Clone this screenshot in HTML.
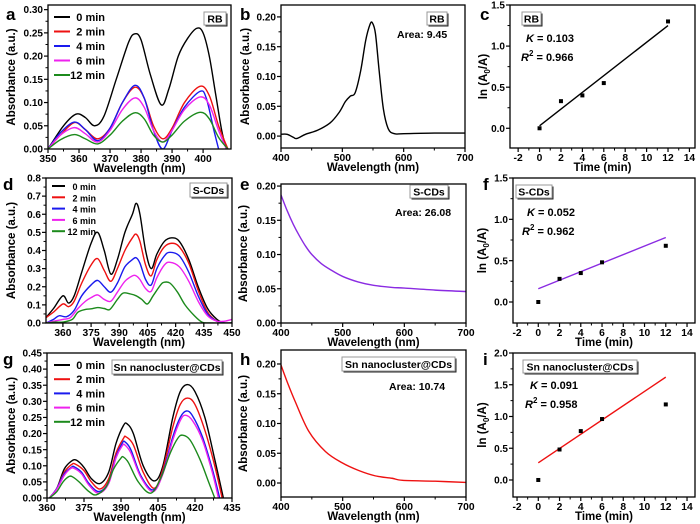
<!DOCTYPE html>
<html><head><meta charset="utf-8">
<style>
html,body{margin:0;padding:0;background:#fff;}
svg{display:block;font-family:"Liberation Sans",Arial,sans-serif;font-weight:bold;}
</style></head>
<body>
<svg id="fig" width="700" height="524" viewBox="0 0 700 524" xmlns="http://www.w3.org/2000/svg"></svg>
<script>
// ---------- data ----------
const timeLabels = ["0 min","2 min","4 min","6 min","12 min"];
const seriesColors = ["#000000","#ee1111","#1a1aee","#ee22ee","#1c8a1c"];

const rbSpec0 = [[350,0],[355,0.05],[359,0.075],[362,0.068],[365,0.05],[368,0.07],[372,0.15],[376,0.23],[378,0.248],[380,0.235],[383,0.16],[386.5,0.095],[389,0.13],[392,0.2],[395,0.238],[398,0.26],[400,0.25],[402,0.2],[404,0.12],[406,0.04],[407.5,0]];
const rbSpec2 = [[350,0],[354,0.03],[358.5,0.057],[362,0.042],[366,0.022],[370,0.045],[374,0.1],[378,0.133],[381,0.11],[384,0.05],[387,0.022],[390,0.045],[394,0.1],[399,0.135],[402,0.115],[405,0.05],[408,0]];
const rbSpec4 = [[350,0],[354,0.035],[358.5,0.058],[362,0.042],[366,0.018],[370,0.045],[374,0.1],[378,0.137],[381,0.11],[384,0.04],[387,0],[390,0.04],[394,0.09],[399,0.124],[401,0.11],[403.5,0.04],[405,0]];
const rbSpec6 = [[350,0],[354,0.03],[358.5,0.046],[362,0.033],[366,0.015],[370,0.04],[374,0.085],[378,0.11],[381,0.09],[384,0.04],[387,0.015],[390,0.04],[394,0.085],[399,0.112],[402,0.095],[405,0.04],[407.5,0]];
const rbSpec12 = [[350,0],[354,0.02],[358.5,0.031],[362,0.022],[366,0.011],[370,0.03],[374,0.06],[378,0.078],[381,0.065],[384,0.03],[387,0.015],[390,0.03],[394,0.06],[399,0.079],[402,0.065],[405,0.025],[408,0]];

const rbFull = [[400,0.003],[410,0.003],[420,-0.002],[426,-0.004],[440,0.003],[460,0.01],[480,0.022],[495,0.04],[505,0.058],[513,0.067],[521,0.073],[530,0.11],[538,0.16],[545,0.187],[549,0.19],[554,0.172],[560,0.11],[567,0.045],[575,0.012],[585,0.004],[600,0.004],[650,0.005],[700,0.005]];

const kinTime = [0,2,4,6,12];
const rbLn = [0,0.33,0.40,0.55,1.30];
const rbFit = [0.03,1.25];
const cdLn = [0,0.28,0.35,0.48,0.68];
const cdFit = [0.16,0.78];
const snLn = [0,0.48,0.77,0.96,1.19];
const snFit = [0.27,1.62];

const cdSpec0 = [[351,0.03],[355,0.08],[360,0.15],[363,0.11],[366,0.15],[370,0.28],[375,0.44],[378.5,0.5],[382,0.4],[385.5,0.27],[389,0.35],[393,0.5],[397,0.6],[399,0.66],[401,0.6],[404,0.4],[407,0.3],[410,0.38],[414,0.45],[418,0.47],[422,0.45],[427,0.35],[432,0.2],[437,0.08],[442,0.02],[446,0.0],[450,0.0]];
const cdSpec2 = [[351,0.03],[355,0.06],[360,0.105],[363,0.09],[366,0.12],[370,0.22],[375,0.32],[378.5,0.355],[382,0.29],[385.5,0.23],[389,0.3],[393,0.4],[397,0.47],[399,0.49],[401,0.45],[404,0.32],[407,0.26],[410,0.35],[414,0.42],[418,0.44],[422,0.42],[427,0.33],[432,0.18],[437,0.06],[442,0.01],[446,0.0],[450,0.0]];
const cdSpec4 = [[351,0.0],[355,0.02],[358,0.04],[362,0.035],[366,0.07],[370,0.15],[375,0.21],[378.5,0.235],[382,0.2],[385.5,0.17],[389,0.22],[393,0.31],[397,0.35],[399,0.36],[401,0.33],[404,0.24],[407,0.21],[410,0.3],[414,0.37],[417,0.39],[422,0.37],[427,0.28],[432,0.15],[437,0.05],[442,0.01],[446,0.0],[450,0.0]];
const cdSpec6 = [[351,0.0],[355,0.01],[360,0.02],[364,0.03],[368,0.08],[372,0.12],[375,0.14],[378.5,0.155],[382,0.13],[385.5,0.12],[389,0.17],[393,0.23],[397,0.26],[399,0.26],[401,0.24],[404,0.19],[407,0.175],[410,0.25],[414,0.32],[417,0.335],[422,0.31],[427,0.23],[432,0.12],[437,0.04],[442,0.01],[446,0.01],[450,0.02]];
const cdSpec12 = [[351,0.0],[356,0.005],[360,0.005],[365,0.02],[368,0.06],[372,0.075],[375,0.078],[378.5,0.085],[382,0.08],[385,0.075],[389,0.13],[392,0.165],[396,0.16],[399,0.15],[402,0.13],[405,0.105],[408,0.15],[412,0.21],[414,0.225],[417,0.22],[421,0.17],[425,0.1],[430,0.04],[434,0.005],[438,0],[450,0]];

const cdFull = [[400,0.187],[410,0.164],[420,0.144],[430,0.127],[440,0.112],[450,0.1],[465,0.087],[480,0.078],[500,0.068],[525,0.06],[550,0.055],[580,0.052],[600,0.051],[650,0.048],[700,0.046]];

const snSpec0 = [[361,0],[364,0.03],[367,0.09],[370,0.115],[372,0.117],[375,0.095],[378,0.06],[381.5,0.045],[385,0.08],[388,0.17],[391,0.225],[392.5,0.23],[395,0.2],[399,0.1],[403.5,0.053],[407,0.1],[411,0.25],[414,0.33],[417,0.352],[420,0.33],[424,0.25],[428,0.12],[431.5,0]];
const snSpec2 = [[361,0],[364,0.03],[367,0.08],[370,0.104],[371.5,0.105],[375,0.085],[378,0.05],[381.5,0.028],[385,0.06],[388,0.14],[391,0.185],[392,0.19],[395,0.165],[399,0.08],[403.5,0.03],[407,0.09],[411,0.22],[414,0.29],[417,0.31],[420,0.29],[424,0.21],[428,0.1],[431,0]];
const snSpec4 = [[361,0],[364,0.03],[367,0.075],[370,0.096],[371,0.097],[374,0.08],[377,0.045],[381,0.02],[385,0.05],[388,0.13],[390.5,0.17],[391.5,0.175],[394,0.15],[398,0.07],[403,0.025],[407,0.08],[411,0.19],[414,0.25],[416.5,0.27],[419,0.255],[423,0.19],[427,0.09],[430,0]];
const snSpec6 = [[361,0],[364,0.028],[367,0.07],[369.5,0.091],[371,0.092],[374,0.075],[377,0.04],[381,0.015],[385,0.045],[388,0.125],[390.5,0.162],[391.5,0.165],[394,0.14],[398,0.065],[403,0.02],[407,0.075],[411,0.18],[414,0.24],[416,0.257],[419,0.24],[423,0.18],[427,0.08],[429.5,0]];
const snSpec12 = [[361,0],[364,0.02],[366.5,0.05],[369,0.067],[370.5,0.065],[373,0.05],[377,0.02],[380,0.01],[384,0.035],[387,0.09],[390,0.124],[391,0.127],[393,0.11],[397,0.05],[402,0.015],[406,0.06],[410,0.14],[413,0.185],[415,0.195],[418,0.18],[422,0.12],[425.5,0.05],[428,0]];

const snFull = [[400,0.198],[410,0.17],[423,0.137],[445,0.087],[472,0.053],[499,0.034],[526,0.021],[553,0.012],[580,0.008],[597,0.0045],[650,0.003],[700,0.001]];

const rbTicksX = [350,360,370,380,390,400];
const rbTicksY = [0,0.05,0.10,0.15,0.20,0.25,0.30];
const visTicksX = [400,500,600,700];
const visTicksY = [0,0.05,0.10,0.15,0.20];
const kinTicksX = [-2,0,2,4,6,8,10,12,14];
const kinTicksY = [0,0.5,1.0,1.5];
const kinTicksYi = [0,0.5,1.0,1.5,2.0];
const cdTicksX = [360,375,390,405,420,435,450];
const cdTicksY = [0,0.1,0.2,0.3,0.4,0.5,0.6,0.7,0.8];
const snTicksX = [360,375,390,405,420,435];
const snTicksY = [0,0.05,0.10,0.15,0.20,0.25,0.30,0.35,0.40,0.45];

// ---------- drawing ----------
const NS = "http://www.w3.org/2000/svg";
const fig = document.getElementById("fig");
function el(tag, attrs, parent, txt){
  const e = document.createElementNS(NS, tag);
  for (const k in attrs) e.setAttribute(k, attrs[k]);
  if (txt !== undefined) e.textContent = txt;
  (parent||fig).appendChild(e);
  return e;
}
function smoothPath(pts){
  let d = "M"+pts[0][0].toFixed(2)+","+pts[0][1].toFixed(2);
  for (let i=0;i<pts.length-1;i++){
    const p0=pts[Math.max(0,i-1)], p1=pts[i], p2=pts[i+1], p3=pts[Math.min(pts.length-1,i+2)];
    const c1x=p1[0]+(p2[0]-p0[0])/6, c1y=p1[1]+(p2[1]-p0[1])/6;
    const c2x=p2[0]-(p3[0]-p1[0])/6, c2y=p2[1]-(p3[1]-p1[1])/6;
    d+=" C"+c1x.toFixed(2)+","+c1y.toFixed(2)+" "+c2x.toFixed(2)+","+c2y.toFixed(2)+" "+p2[0].toFixed(2)+","+p2[1].toFixed(2);
  }
  return d;
}
function panel(id, cfg){
  const g = el("g", {}, fig);
  
  
  const sx = v => cfg.L + (v - cfg.x0) / (cfg.x1 - cfg.x0) * (cfg.R - cfg.L);
  const sy = v => cfg.B - (v - cfg.y0) / (cfg.y1 - cfg.y0) * (cfg.B - cfg.T);
  const clipId = "clip-"+id;
  const defs = el("defs", {}, g);
  const cp = el("clipPath", {id: clipId}, defs);
  el("rect", {x:cfg.L, y:cfg.T, width:cfg.R-cfg.L, height:cfg.B-cfg.T}, cp);
  const tickG = el("g", {}, g);
  
  
  const xs = cfg.xt;
  for (let i=0;i<xs.length;i++){
    const x = sx(xs[i]);
    el("line", {x1:x, x2:x, y1:cfg.B, y2:cfg.B+4, stroke:"#000", "stroke-width":1.2}, tickG);
    const t = el("text", {x:x, y:cfg.B+13, "text-anchor":"middle", "font-size":"10.3"}, tickG, String(xs[i]));
    
    
    if (i<xs.length-1){
      const xm = sx((xs[i]+xs[i+1])/2);
      el("line", {x1:xm, x2:xm, y1:cfg.B, y2:cfg.B+2.5, stroke:"#000", "stroke-width":1}, tickG);
    }
  }
  const yG = el("g", {}, g);
  
  
  const ys = cfg.yt;
  for (let i=0;i<ys.length;i++){
    const y = sy(ys[i]);
    el("line", {x1:cfg.L-4, x2:cfg.L, y1:y, y2:y, stroke:"#000", "stroke-width":1.2}, yG);
    const t = el("text", {x:cfg.L-5, y:y+3.6, "text-anchor":"end", "font-size":"10"}, yG, ys[i].toFixed(cfg.yd));
    
    
    if (i<ys.length-1){
      const ym = sy((ys[i]+ys[i+1])/2);
      el("line", {x1:cfg.L-2.5, x2:cfg.L, y1:ym, y2:ym, stroke:"#000", "stroke-width":1}, yG);
    }
  }
  const xt = el("text", {x:(cfg.L+cfg.R)/2, y:cfg.B+23, "text-anchor":"middle", "font-size":"11.5"}, g, cfg.xTitle);
  
  
  const ytx = cfg.ytx, yty = (cfg.T+cfg.B)/2;
  const yt = el("text", {x:ytx, y:yty, "text-anchor":"middle", "font-size":"11.5", transform:"rotate(-90 "+ytx+" "+yty+")"}, g);
  
  
  if (cfg.yTitle === "ln"){
    el("tspan", {}, yt, "ln (A");
    el("tspan", {"font-size":"8", dy:"3"}, yt, "0");
    el("tspan", {dy:"-3"}, yt, "/A)");
  } else yt.textContent = cfg.yTitle;
  const plot = el("g", {"clip-path":"url(#"+clipId+")"}, g);
  (cfg.lines||[]).forEach((ln, k) => {
    const p = el("path", {d: smoothPath(ln.data.map(q=>[sx(q[0]), sy(q[1])])), fill:"none", stroke:ln.color, "stroke-width":1.4}, plot);
    
    
  });
  if (cfg.kin){
    const f = cfg.kin;
    const fl = el("line", {x1:sx(0), y1:sy(f.fit[0]), x2:sx(12), y2:sy(f.fit[1]), stroke:f.color, "stroke-width":1.4}, plot);
    
    
    for (let i=0;i<kinTime.length;i++){
      const pt = el("rect", {x:sx(kinTime[i])-2, y:sy(f.vals[i])-2, width:4, height:4, fill:"#000"}, plot);
      
      
    }
  }
  const fr = el("rect", {x:cfg.L, y:cfg.T, width:cfg.R-cfg.L, height:cfg.B-cfg.T, fill:"none", stroke:"#000", "stroke-width":1.3}, g);
  
  
  const pl = el("text", {x:cfg.lx, y:cfg.ly, "font-size":"17"}, g, id);
  
  
  if (cfg.box){
    const b = cfg.box;
    const bg = el("g", {}, g);
    
    
    el("rect", {x:b.x+1.5, y:b.y+1.5, width:b.w, height:b.h, fill:"#222"}, bg);
    el("rect", {x:b.x, y:b.y, width:b.w, height:b.h, fill:"#fff", stroke:"#999", "stroke-width":1}, bg);
    el("text", {x:b.x+b.w/2, y:b.y+b.h/2+3.8, "text-anchor":"middle", "font-size":"10.5"}, bg, b.t);
  }
  if (cfg.area){
    const a = el("text", {x:cfg.area.x, y:cfg.area.y, "font-size":"10.5"}, g, cfg.area.t);
    
    
  }
  if (cfg.kt){
    const k = cfg.kt;
    const t1 = el("text", {x:k.x, y:k.y, "font-size":"11"}, g);
    
    
    el("tspan", {"font-style":"italic"}, t1, "K");
    el("tspan", {}, t1, " = "+k.k);
    const t2 = el("text", {x:k.x-5, y:k.y+19, "font-size":"11"}, g);
    
    
    el("tspan", {"font-style":"italic"}, t2, "R");
    el("tspan", {"font-size":"8", dy:"-5"}, t2, "2");
    el("tspan", {dy:"5"}, t2, " = "+k.r);
  }
  if (cfg.legend){
    const lg = cfg.legend;
    const lgG = el("g", {}, g);
    
    
    for (let i=0;i<timeLabels.length;i++){
      const y = lg.y + i*lg.dy;
      const ent = el("g", {}, lgG);
      
      
      el("line", {x1:lg.x, x2:lg.x+lg.w, y1:y, y2:y, stroke:seriesColors[i], "stroke-width":2}, ent);
      el("text", {x:lg.tx, y:y+4, "text-anchor":"end", "font-size":lg.fs}, ent, timeLabels[i]);
    }
  }
}
function specLines(arrs){ return arrs.map((d,i)=>({data:d, color:seriesColors[i], name:'spectrum-'+timeLabels[i].replace(' ','-')})); }

const WL = "Wavelength (nm)", AB = "Absorbance (a.u.)";
panel("a", {L:48,R:231,T:5,B:149,x0:350,x1:409,y0:0,y1:0.31,xt:rbTicksX,yt:rbTicksY,yd:2,xTitle:WL,yTitle:AB,ytx:15,lx:6,ly:20,
  lines:specLines([rbSpec0,rbSpec2,rbSpec4,rbSpec6,rbSpec12]), box:{x:204,y:12,w:22,h:13,t:"RB"},
  legend:{x:54,w:16,tx:105,y:17,dy:14.5,fs:"11"}});
panel("b", {L:281,R:465,T:5,B:148,x0:400,x1:700,y0:-0.02,y1:0.22,xt:visTicksX,yt:visTicksY,yd:2,xTitle:WL,yTitle:AB,ytx:249,lx:240,ly:20,
  lines:[{data:rbFull,color:"#000",name:'rb-spectrum'}], box:{x:427,y:12,w:20,h:13,t:"RB"}, area:{x:397,y:38,t:"Area: 9.45"}});
panel("c", {L:510,R:695,T:5,B:148,x0:-2.76,x1:14.52,y0:-0.24,y1:1.5,xt:kinTicksX,yt:kinTicksY,yd:1,xTitle:"Time (min)",yTitle:"ln",ytx:487,lx:480,ly:20,
  kin:{vals:rbLn,fit:rbFit,color:"#000"}, box:{x:522,y:12,w:19,h:13,t:"RB"}, kt:{x:526,y:42,k:"0.103",r:"0.966"}});

panel("d", {L:46,R:232,T:178,B:323,x0:351,x1:450,y0:0,y1:0.8,xt:cdTicksX,yt:cdTicksY,yd:1,xTitle:WL,yTitle:AB,ytx:15,lx:3,ly:190,
  lines:specLines([cdSpec0,cdSpec2,cdSpec4,cdSpec6,cdSpec12]), box:{x:190,y:183,w:37,h:14,t:"S-CDs"},
  legend:{x:52,w:13,tx:96,y:186,dy:11.3,fs:"9"}});
panel("e", {L:281,R:466,T:184,B:323,x0:400,x1:700,y0:0,y1:0.203,xt:visTicksX,yt:visTicksY,yd:2,xTitle:WL,yTitle:AB,ytx:247,lx:240,ly:190,
  lines:[{data:cdFull,color:"#8a2be2",name:'s-cds-spectrum'}], box:{x:410,y:185,w:38,h:13,t:"S-CDs"}, area:{x:395,y:216,t:"Area: 26.08"}});
panel("f", {L:513,R:695,T:178,B:323,x0:-2.38,x1:14.75,y0:-0.254,y1:1.5,xt:kinTicksX,yt:kinTicksY,yd:1,xTitle:"Time (min)",yTitle:"ln",ytx:486,lx:483,ly:190,
  kin:{vals:cdLn,fit:cdFit,color:"#8a2be2"}, box:{x:516,y:185,w:36,h:13,t:"S-CDs"}, kt:{x:527,y:216,k:"0.052",r:"0.962"}});

panel("g", {L:47,R:232,T:353,B:498,x0:360,x1:435,y0:0,y1:0.45,xt:snTicksX,yt:snTicksY,yd:2,xTitle:WL,yTitle:AB,ytx:15,lx:3,ly:365,
  lines:specLines([snSpec0,snSpec2,snSpec4,snSpec6,snSpec12]), box:{x:112,y:360,w:110,h:14,t:"Sn nanocluster@CDs"},
  legend:{x:54,w:16,tx:105,y:365,dy:14.2,fs:"11"}});
panel("h", {L:281,R:466,T:350,B:497,x0:400,x1:700,y0:-0.0235,y1:0.2235,xt:visTicksX,yt:visTicksY,yd:2,xTitle:WL,yTitle:AB,ytx:247,lx:240,ly:365,
  lines:[{data:snFull,color:"#ee1111",name:'sn-cds-spectrum'}], box:{x:342,y:357,w:113,h:14,t:"Sn nanocluster@CDs"}, area:{x:389,y:390,t:"Area: 10.74"}});
panel("i", {L:513,R:695,T:353,B:497,x0:-2.38,x1:14.75,y0:-0.268,y1:2.0,xt:kinTicksX,yt:kinTicksYi,yd:1,xTitle:"Time (min)",yTitle:"ln",ytx:486,lx:483,ly:365,
  kin:{vals:snLn,fit:snFit,color:"#ee1111"}, box:{x:523,y:360,w:114,h:13,t:"Sn nanocluster@CDs"}, kt:{x:530,y:389,k:"0.091",r:"0.958"}});
</script>
</body></html>
